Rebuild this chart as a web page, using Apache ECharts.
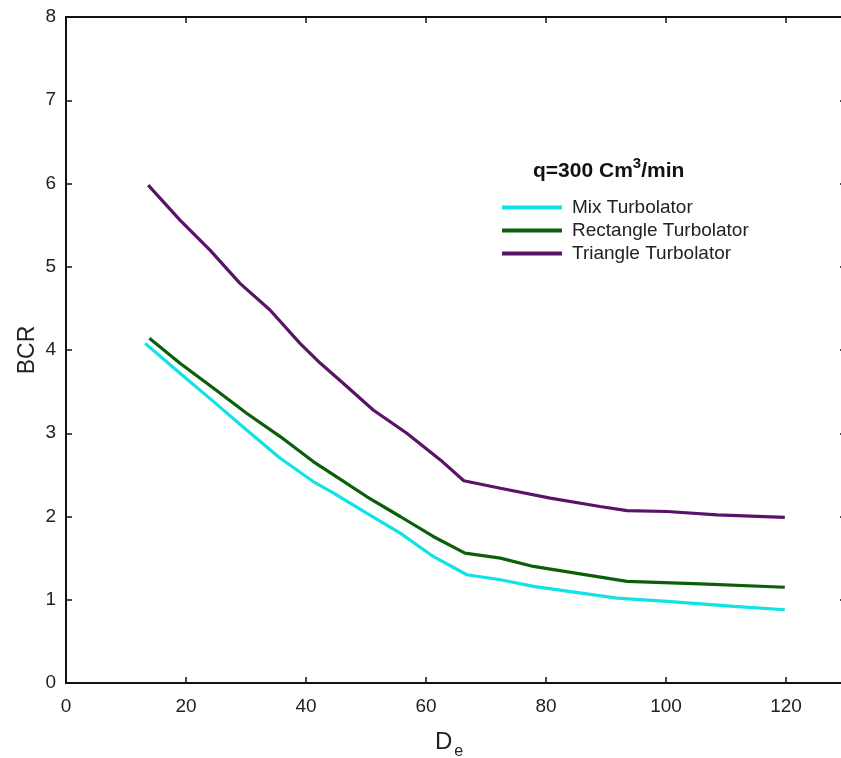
<!DOCTYPE html>
<html>
<head>
<meta charset="utf-8">
<script src="https://cdn.jsdelivr.net/npm/echarts@6/dist/echarts.min.js"></script>
<style>
  html, body { margin: 0; padding: 0; background: #fff; overflow: hidden; }
  #chart { width: 852px; height: 758px; }
</style>
</head>
<body>
<div id="chart"></div>
<script>
// Bejan-type coefficient ratio (BCR) against equivalent diameter De, q = 300 cm3/min
const seriesNames = ['Mix Turbolator', 'Rectangle Turbolator', 'Triangle Turbolator'];

const mixX = [13.2, 19.0, 24.6, 30.1, 35.7, 41.2, 44.6, 50.1, 55.7, 61.2, 66.8, 72.4, 77.9, 91.8, 100.2, 111.3, 119.8];
const mixY = [4.08, 3.72, 3.38, 3.04, 2.70, 2.42, 2.28, 2.04, 1.80, 1.52, 1.30, 1.24, 1.16, 1.02, 0.98, 0.92, 0.88];

const rectX = [13.9, 19.0, 24.6, 30.1, 35.7, 41.2, 44.6, 50.1, 55.7, 61.2, 66.5, 72.4, 77.9, 93.5, 105.7, 119.8];
const rectY = [4.14, 3.84, 3.54, 3.24, 2.96, 2.66, 2.50, 2.24, 2.00, 1.76, 1.56, 1.50, 1.40, 1.22, 1.19, 1.15];

const triX = [13.7, 19.0, 24.0, 29.0, 34.0, 39.0, 42.4, 46.2, 51.2, 56.8, 62.4, 66.3, 72.4, 80.7, 89.0, 93.5, 100.2, 108.5, 119.8];
const triY = [5.98, 5.56, 5.20, 4.80, 4.48, 4.08, 3.84, 3.60, 3.28, 3.00, 2.68, 2.43, 2.34, 2.22, 2.12, 2.07, 2.06, 2.02, 1.99];

const xTicks = [0, 20, 40, 60, 80, 100, 120];
const yTicks = [0, 1, 2, 3, 4, 5, 6, 7, 8];

const colors = ['#10e2e6', '#0b5f0b', '#5a1467'];
const FONT = '"Liberation Sans", Arial, sans-serif';

const zip = (xs, ys) => xs.map((x, i) => [x, ys[i]]);

const axisLine = { show: true, onZero: false, lineStyle: { color: '#111', width: 2 } };
const tickIn = { show: true, inside: true, length: 6, lineStyle: { color: '#111', width: 1.5 } };

const chart = echarts.init(document.getElementById('chart'), null, { renderer: 'canvas' });

chart.setOption({
  backgroundColor: '#fff',
  animation: false,
  grid: { left: 66, right: 6, top: 17, bottom: 75, containLabel: false, outerBoundsMode: 'none' },
  xAxis: [
    {
      type: 'value', min: 0, max: 130, interval: 20, position: 'bottom',
      name: '{d|D}{e|e}', nameLocation: 'middle', nameGap: 41, nameMoveOverlap: false,
      nameTextStyle: {
        padding: [0, 14, 0, 0],
        rich: {
          d: { fontSize: 24, fontFamily: FONT, color: '#222', lineHeight: 26 },
          e: { fontSize: 16, fontFamily: FONT, color: '#222', padding: [20, 0, 0, 2] }
        }
      },
      axisLine, axisTick: tickIn, splitLine: { show: false },
      axisLabel: {
        margin: 14, fontSize: 19, fontFamily: FONT, color: '#222', showMaxLabel: false,
        formatter: v => (xTicks.includes(v) ? String(v) : '')
      }
    },
    {
      type: 'value', min: 0, max: 130, interval: 20, position: 'top',
      axisLine, axisTick: tickIn, axisLabel: { show: false }, splitLine: { show: false }
    }
  ],
  yAxis: [
    {
      type: 'value', min: 0, max: 8, interval: 1, position: 'left',
      name: 'BCR', nameLocation: 'middle', nameGap: 27, nameRotate: 90, nameMoveOverlap: false,
      nameTextStyle: { fontSize: 23, fontFamily: FONT, color: '#222' },
      axisLine, axisTick: tickIn, splitLine: { show: false },
      axisLabel: {
        margin: 10, fontSize: 19, fontFamily: FONT, color: '#222',
        formatter: v => (yTicks.includes(v) ? String(v) : '')
      }
    },
    {
      type: 'value', min: 0, max: 8, interval: 1, position: 'right',
      axisLine, axisTick: tickIn, axisLabel: { show: false }, splitLine: { show: false }
    }
  ],
  legend: {
    orient: 'vertical', left: 502, top: 198, padding: 0,
    data: seriesNames, icon: 'rect', itemWidth: 60, itemHeight: 4, itemGap: 4,
    textStyle: { fontSize: 19, fontFamily: FONT, color: '#222', lineHeight: 18, padding: [0, 0, 0, 5] }
  },
  graphic: [
    {
      type: 'text', left: 533, top: 156,
      style: {
        text: '{a|q=300 Cm}{s|3}{a|/min}',
        rich: {
          a: { fontSize: 21, fontWeight: 'bold', fontFamily: FONT, fill: '#111', lineHeight: 26, verticalAlign: 'bottom' },
          s: { fontSize: 15, fontWeight: 'bold', fontFamily: FONT, fill: '#111', verticalAlign: 'top' }
        }
      }
    }
  ],
  series: [
    { name: seriesNames[0], type: 'line', data: zip(mixX, mixY), showSymbol: false, color: colors[0], lineStyle: { width: 3.2 } },
    { name: seriesNames[1], type: 'line', data: zip(rectX, rectY), showSymbol: false, color: colors[1], lineStyle: { width: 3.2 } },
    { name: seriesNames[2], type: 'line', data: zip(triX, triY), showSymbol: false, color: colors[2], lineStyle: { width: 3.2 } }
  ]
});
</script>
</body>
</html>
